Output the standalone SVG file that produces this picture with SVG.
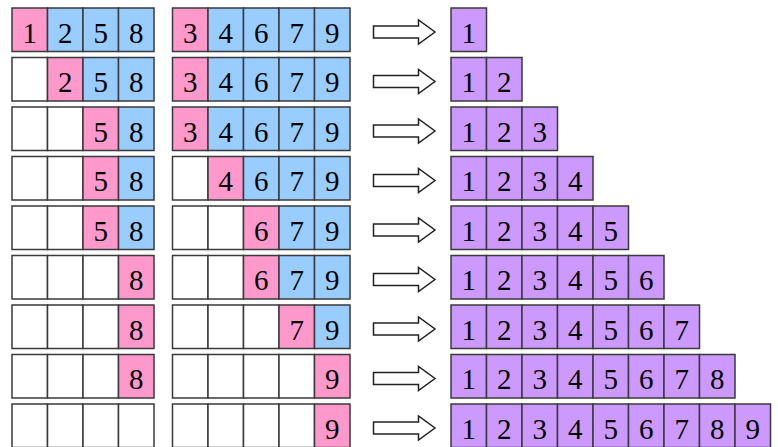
<svg xmlns="http://www.w3.org/2000/svg" width="778" height="447" viewBox="0 0 778 447">
<defs>
<style>
rect{stroke:#3a3a3a;stroke-width:1.5}
.w{fill:#ffffff}.p{fill:#ff99cc}.b{fill:#99ccff}.v{fill:#cc99ff}
text{font-family:"Liberation Serif","Times New Roman",serif;font-size:29px;fill:#000;text-anchor:middle}
.arr{fill:#fff;stroke:#222;stroke-width:1.5}
</style>
<path id="ar" class="arr" d="M373.5,-6 H418.5 V-12 L435,0 L418.5,12 V6 H373.5 Z"/>
</defs>
<g id="connectors">
<use href="#ar" y="32"/>
<use href="#ar" y="81.5"/>
<use href="#ar" y="131"/>
<use href="#ar" y="180.5"/>
<use href="#ar" y="230"/>
<use href="#ar" y="279.5"/>
<use href="#ar" y="329"/>
<use href="#ar" y="378.5"/>
<use href="#ar" y="428"/>
</g>
<g id="row1" transform="translate(0,8)">
<g id="r1-left"><rect class="p" x="12" y="0" width="35.5" height="43.5"/><rect class="b" x="47.5" y="0" width="35.5" height="43.5"/><rect class="b" x="83" y="0" width="35.5" height="43.5"/><rect class="b" x="118.5" y="0" width="35.5" height="43.5"/>
<text x="29.75" y="34.5">1</text><text x="65.25" y="34.5">2</text><text x="100.75" y="34.5">5</text><text x="136.25" y="34.5">8</text></g>
<g id="r1-mid"><rect class="p" x="172.5" y="0" width="35.5" height="43.5"/><rect class="b" x="208" y="0" width="35.5" height="43.5"/><rect class="b" x="243.5" y="0" width="35.5" height="43.5"/><rect class="b" x="279" y="0" width="35.5" height="43.5"/><rect class="b" x="314.5" y="0" width="35.5" height="43.5"/>
<text x="190.25" y="34.5">3</text><text x="225.75" y="34.5">4</text><text x="261.25" y="34.5">6</text><text x="296.75" y="34.5">7</text><text x="332.25" y="34.5">9</text></g>
<g id="r1-right"><rect class="v" x="451" y="0" width="35.5" height="43.5"/><text x="468.75" y="34.5">1</text></g>
</g>
<g id="row2" transform="translate(0,57.5)">
<g id="r2-left"><rect class="w" x="12" y="0" width="35.5" height="43.5"/><rect class="p" x="47.5" y="0" width="35.5" height="43.5"/><rect class="b" x="83" y="0" width="35.5" height="43.5"/><rect class="b" x="118.5" y="0" width="35.5" height="43.5"/>
<text x="65.25" y="34.5">2</text><text x="100.75" y="34.5">5</text><text x="136.25" y="34.5">8</text></g>
<g id="r2-mid"><rect class="p" x="172.5" y="0" width="35.5" height="43.5"/><rect class="b" x="208" y="0" width="35.5" height="43.5"/><rect class="b" x="243.5" y="0" width="35.5" height="43.5"/><rect class="b" x="279" y="0" width="35.5" height="43.5"/><rect class="b" x="314.5" y="0" width="35.5" height="43.5"/>
<text x="190.25" y="34.5">3</text><text x="225.75" y="34.5">4</text><text x="261.25" y="34.5">6</text><text x="296.75" y="34.5">7</text><text x="332.25" y="34.5">9</text></g>
<g id="r2-right"><rect class="v" x="451" y="0" width="35.5" height="43.5"/><rect class="v" x="486.5" y="0" width="35.5" height="43.5"/><text x="468.75" y="34.5">1</text><text x="504.25" y="34.5">2</text></g>
</g>
<g id="row3" transform="translate(0,107)">
<g id="r3-left"><rect class="w" x="12" y="0" width="35.5" height="43.5"/><rect class="w" x="47.5" y="0" width="35.5" height="43.5"/><rect class="p" x="83" y="0" width="35.5" height="43.5"/><rect class="b" x="118.5" y="0" width="35.5" height="43.5"/>
<text x="100.75" y="34.5">5</text><text x="136.25" y="34.5">8</text></g>
<g id="r3-mid"><rect class="p" x="172.5" y="0" width="35.5" height="43.5"/><rect class="b" x="208" y="0" width="35.5" height="43.5"/><rect class="b" x="243.5" y="0" width="35.5" height="43.5"/><rect class="b" x="279" y="0" width="35.5" height="43.5"/><rect class="b" x="314.5" y="0" width="35.5" height="43.5"/>
<text x="190.25" y="34.5">3</text><text x="225.75" y="34.5">4</text><text x="261.25" y="34.5">6</text><text x="296.75" y="34.5">7</text><text x="332.25" y="34.5">9</text></g>
<g id="r3-right"><rect class="v" x="451" y="0" width="35.5" height="43.5"/><rect class="v" x="486.5" y="0" width="35.5" height="43.5"/><rect class="v" x="522" y="0" width="35.5" height="43.5"/><text x="468.75" y="34.5">1</text><text x="504.25" y="34.5">2</text><text x="539.75" y="34.5">3</text></g>
</g>
<g id="row4" transform="translate(0,156.5)">
<g id="r4-left"><rect class="w" x="12" y="0" width="35.5" height="43.5"/><rect class="w" x="47.5" y="0" width="35.5" height="43.5"/><rect class="p" x="83" y="0" width="35.5" height="43.5"/><rect class="b" x="118.5" y="0" width="35.5" height="43.5"/>
<text x="100.75" y="34.5">5</text><text x="136.25" y="34.5">8</text></g>
<g id="r4-mid"><rect class="w" x="172.5" y="0" width="35.5" height="43.5"/><rect class="p" x="208" y="0" width="35.5" height="43.5"/><rect class="b" x="243.5" y="0" width="35.5" height="43.5"/><rect class="b" x="279" y="0" width="35.5" height="43.5"/><rect class="b" x="314.5" y="0" width="35.5" height="43.5"/>
<text x="225.75" y="34.5">4</text><text x="261.25" y="34.5">6</text><text x="296.75" y="34.5">7</text><text x="332.25" y="34.5">9</text></g>
<g id="r4-right"><rect class="v" x="451" y="0" width="35.5" height="43.5"/><rect class="v" x="486.5" y="0" width="35.5" height="43.5"/><rect class="v" x="522" y="0" width="35.5" height="43.5"/><rect class="v" x="557.5" y="0" width="35.5" height="43.5"/><text x="468.75" y="34.5">1</text><text x="504.25" y="34.5">2</text><text x="539.75" y="34.5">3</text><text x="575.25" y="34.5">4</text></g>
</g>
<g id="row5" transform="translate(0,206)">
<g id="r5-left"><rect class="w" x="12" y="0" width="35.5" height="43.5"/><rect class="w" x="47.5" y="0" width="35.5" height="43.5"/><rect class="p" x="83" y="0" width="35.5" height="43.5"/><rect class="b" x="118.5" y="0" width="35.5" height="43.5"/>
<text x="100.75" y="34.5">5</text><text x="136.25" y="34.5">8</text></g>
<g id="r5-mid"><rect class="w" x="172.5" y="0" width="35.5" height="43.5"/><rect class="w" x="208" y="0" width="35.5" height="43.5"/><rect class="p" x="243.5" y="0" width="35.5" height="43.5"/><rect class="b" x="279" y="0" width="35.5" height="43.5"/><rect class="b" x="314.5" y="0" width="35.5" height="43.5"/>
<text x="261.25" y="34.5">6</text><text x="296.75" y="34.5">7</text><text x="332.25" y="34.5">9</text></g>
<g id="r5-right"><rect class="v" x="451" y="0" width="35.5" height="43.5"/><rect class="v" x="486.5" y="0" width="35.5" height="43.5"/><rect class="v" x="522" y="0" width="35.5" height="43.5"/><rect class="v" x="557.5" y="0" width="35.5" height="43.5"/><rect class="v" x="593" y="0" width="35.5" height="43.5"/><text x="468.75" y="34.5">1</text><text x="504.25" y="34.5">2</text><text x="539.75" y="34.5">3</text><text x="575.25" y="34.5">4</text><text x="610.75" y="34.5">5</text></g>
</g>
<g id="row6" transform="translate(0,255.5)">
<g id="r6-left"><rect class="w" x="12" y="0" width="35.5" height="43.5"/><rect class="w" x="47.5" y="0" width="35.5" height="43.5"/><rect class="w" x="83" y="0" width="35.5" height="43.5"/><rect class="p" x="118.5" y="0" width="35.5" height="43.5"/>
<text x="136.25" y="34.5">8</text></g>
<g id="r6-mid"><rect class="w" x="172.5" y="0" width="35.5" height="43.5"/><rect class="w" x="208" y="0" width="35.5" height="43.5"/><rect class="p" x="243.5" y="0" width="35.5" height="43.5"/><rect class="b" x="279" y="0" width="35.5" height="43.5"/><rect class="b" x="314.5" y="0" width="35.5" height="43.5"/>
<text x="261.25" y="34.5">6</text><text x="296.75" y="34.5">7</text><text x="332.25" y="34.5">9</text></g>
<g id="r6-right"><rect class="v" x="451" y="0" width="35.5" height="43.5"/><rect class="v" x="486.5" y="0" width="35.5" height="43.5"/><rect class="v" x="522" y="0" width="35.5" height="43.5"/><rect class="v" x="557.5" y="0" width="35.5" height="43.5"/><rect class="v" x="593" y="0" width="35.5" height="43.5"/><rect class="v" x="628.5" y="0" width="35.5" height="43.5"/><text x="468.75" y="34.5">1</text><text x="504.25" y="34.5">2</text><text x="539.75" y="34.5">3</text><text x="575.25" y="34.5">4</text><text x="610.75" y="34.5">5</text><text x="646.25" y="34.5">6</text></g>
</g>
<g id="row7" transform="translate(0,305)">
<g id="r7-left"><rect class="w" x="12" y="0" width="35.5" height="43.5"/><rect class="w" x="47.5" y="0" width="35.5" height="43.5"/><rect class="w" x="83" y="0" width="35.5" height="43.5"/><rect class="p" x="118.5" y="0" width="35.5" height="43.5"/>
<text x="136.25" y="34.5">8</text></g>
<g id="r7-mid"><rect class="w" x="172.5" y="0" width="35.5" height="43.5"/><rect class="w" x="208" y="0" width="35.5" height="43.5"/><rect class="w" x="243.5" y="0" width="35.5" height="43.5"/><rect class="p" x="279" y="0" width="35.5" height="43.5"/><rect class="b" x="314.5" y="0" width="35.5" height="43.5"/>
<text x="296.75" y="34.5">7</text><text x="332.25" y="34.5">9</text></g>
<g id="r7-right"><rect class="v" x="451" y="0" width="35.5" height="43.5"/><rect class="v" x="486.5" y="0" width="35.5" height="43.5"/><rect class="v" x="522" y="0" width="35.5" height="43.5"/><rect class="v" x="557.5" y="0" width="35.5" height="43.5"/><rect class="v" x="593" y="0" width="35.5" height="43.5"/><rect class="v" x="628.5" y="0" width="35.5" height="43.5"/><rect class="v" x="664" y="0" width="35.5" height="43.5"/><text x="468.75" y="34.5">1</text><text x="504.25" y="34.5">2</text><text x="539.75" y="34.5">3</text><text x="575.25" y="34.5">4</text><text x="610.75" y="34.5">5</text><text x="646.25" y="34.5">6</text><text x="681.75" y="34.5">7</text></g>
</g>
<g id="row8" transform="translate(0,354.5)">
<g id="r8-left"><rect class="w" x="12" y="0" width="35.5" height="43.5"/><rect class="w" x="47.5" y="0" width="35.5" height="43.5"/><rect class="w" x="83" y="0" width="35.5" height="43.5"/><rect class="p" x="118.5" y="0" width="35.5" height="43.5"/>
<text x="136.25" y="34.5">8</text></g>
<g id="r8-mid"><rect class="w" x="172.5" y="0" width="35.5" height="43.5"/><rect class="w" x="208" y="0" width="35.5" height="43.5"/><rect class="w" x="243.5" y="0" width="35.5" height="43.5"/><rect class="w" x="279" y="0" width="35.5" height="43.5"/><rect class="p" x="314.5" y="0" width="35.5" height="43.5"/>
<text x="332.25" y="34.5">9</text></g>
<g id="r8-right"><rect class="v" x="451" y="0" width="35.5" height="43.5"/><rect class="v" x="486.5" y="0" width="35.5" height="43.5"/><rect class="v" x="522" y="0" width="35.5" height="43.5"/><rect class="v" x="557.5" y="0" width="35.5" height="43.5"/><rect class="v" x="593" y="0" width="35.5" height="43.5"/><rect class="v" x="628.5" y="0" width="35.5" height="43.5"/><rect class="v" x="664" y="0" width="35.5" height="43.5"/><rect class="v" x="699.5" y="0" width="35.5" height="43.5"/><text x="468.75" y="34.5">1</text><text x="504.25" y="34.5">2</text><text x="539.75" y="34.5">3</text><text x="575.25" y="34.5">4</text><text x="610.75" y="34.5">5</text><text x="646.25" y="34.5">6</text><text x="681.75" y="34.5">7</text><text x="717.25" y="34.5">8</text></g>
</g>
<g id="row9" transform="translate(0,404)">
<g id="r9-left"><rect class="w" x="12" y="0" width="35.5" height="43.5"/><rect class="w" x="47.5" y="0" width="35.5" height="43.5"/><rect class="w" x="83" y="0" width="35.5" height="43.5"/><rect class="w" x="118.5" y="0" width="35.5" height="43.5"/></g>
<g id="r9-mid"><rect class="w" x="172.5" y="0" width="35.5" height="43.5"/><rect class="w" x="208" y="0" width="35.5" height="43.5"/><rect class="w" x="243.5" y="0" width="35.5" height="43.5"/><rect class="w" x="279" y="0" width="35.5" height="43.5"/><rect class="p" x="314.5" y="0" width="35.5" height="43.5"/>
<text x="332.25" y="34.5">9</text></g>
<g id="r9-right"><rect class="v" x="451" y="0" width="35.5" height="43.5"/><rect class="v" x="486.5" y="0" width="35.5" height="43.5"/><rect class="v" x="522" y="0" width="35.5" height="43.5"/><rect class="v" x="557.5" y="0" width="35.5" height="43.5"/><rect class="v" x="593" y="0" width="35.5" height="43.5"/><rect class="v" x="628.5" y="0" width="35.5" height="43.5"/><rect class="v" x="664" y="0" width="35.5" height="43.5"/><rect class="v" x="699.5" y="0" width="35.5" height="43.5"/><rect class="v" x="735" y="0" width="35.5" height="43.5"/><text x="468.75" y="34.5">1</text><text x="504.25" y="34.5">2</text><text x="539.75" y="34.5">3</text><text x="575.25" y="34.5">4</text><text x="610.75" y="34.5">5</text><text x="646.25" y="34.5">6</text><text x="681.75" y="34.5">7</text><text x="717.25" y="34.5">8</text><text x="752.75" y="34.5">9</text></g>
</g>
</svg>
